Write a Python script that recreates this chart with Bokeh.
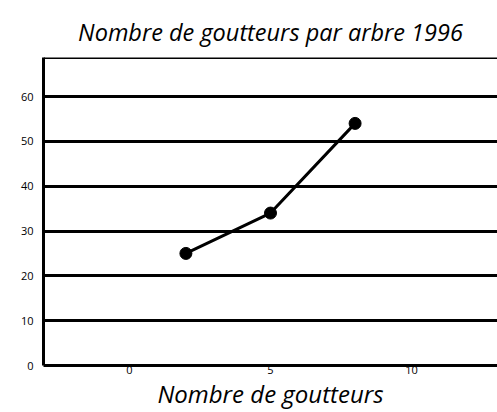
from bokeh.plotting import figure
from bokeh.models import Range1d, FixedTicker, Span
from bokeh.embed import file_html
from bokeh.resources import INLINE

# Data
goutteurs = [2, 5, 8]
valeurs = [25, 34, 54]
x_ticks = [0, 5, 10]
y_ticks = [0, 10, 20, 30, 40, 50, 60]
x_start, x_end = -3.05, 13.05
y_start, y_end = 0, 68.7

FONT = "Open Sans"

p = figure(width=497, height=412, output_backend="svg", toolbar_location=None,
           x_range=Range1d(x_start, x_end), y_range=Range1d(y_start, y_end),
           title="Nombre de goutteurs par arbre 1996",
           min_border_left=43, min_border_right=0, min_border_top=57, min_border_bottom=44)

p.title.text_font = FONT
p.title.text_font_style = "italic"
p.title.text_font_size = "23.5px"
p.title.text_color = "black"
p.title.align = "center"
p.title.offset = 39
p.title.standoff = 20

p.outline_line_color = None
p.background_fill_color = "white"
p.border_fill_color = "white"

p.xgrid.grid_line_color = None
p.ygrid.grid_line_color = "black"
p.ygrid.grid_line_width = 3
p.ygrid.grid_line_alpha = 1.0

for ax in (p.xaxis, p.yaxis):
    ax.axis_line_color = "black"
    ax.axis_line_width = 3
    ax.major_tick_line_color = None
    ax.minor_tick_line_color = None
    ax.major_tick_out = 0
    ax.major_tick_in = 0
    ax.minor_tick_out = 0
    ax.major_label_text_font = FONT
    ax.major_label_text_font_size = "11px"
    ax.major_label_text_color = "black"

p.xaxis.ticker = FixedTicker(ticks=x_ticks)
p.yaxis.ticker = FixedTicker(ticks=y_ticks)
p.xaxis.major_label_standoff = 0
p.yaxis.major_label_standoff = 10

p.xaxis.axis_label = "Nombre de goutteurs"
p.xaxis.axis_label_text_font = FONT
p.xaxis.axis_label_text_font_style = "italic"
p.xaxis.axis_label_text_font_size = "24px"
p.xaxis.axis_label_text_color = "black"
p.xaxis.axis_label_standoff = 0

p.add_layout(Span(location=y_end, dimension="width", line_color="black", line_width=3))

p.line(goutteurs, valeurs, line_color="black", line_width=3)
p.scatter(goutteurs, valeurs, size=12, fill_color="black", line_color="black")

open("out.html", "w").write(file_html(p, INLINE))
